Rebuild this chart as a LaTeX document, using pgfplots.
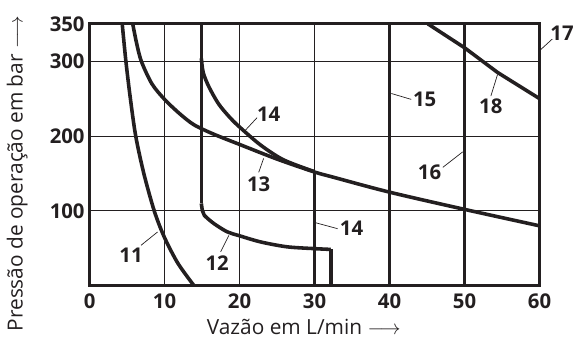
\documentclass[border=0pt]{standalone}
\usepackage{fontspec}
\setmainfont{Open Sans}
\usepackage{pgfplots}
\pgfplotsset{compat=1.18}
\definecolor{ink}{HTML}{231F20}
\tikzset{
  curve/.style={line width=3.6pt, color=ink, line cap=butt, line join=round},
  lead/.style={line width=0.7pt, color=ink},
  num/.style={font=\fontsize{20.5}{20.5}\selectfont\bfseries, color=ink},
}
\begin{document}
\begin{tikzpicture}
\begin{axis}[
  scale only axis, width=452bp, height=263bp,
  xmin=0, xmax=60, ymin=0, ymax=350,
  xtick={0,10,...,60}, ytick={100,200,300,350},
  grid=major, major grid style={line width=0.9pt, color=ink},
  major tick length=0pt,
  axis line style={line width=3.2pt, color=ink},
  tick label style={font=\fontsize{20.5}{20.5}\selectfont\bfseries, color=ink},
  /pgf/number format/assume math mode=true,
  xticklabel style={yshift=-5bp},
  yticklabel style={xshift=-1.5bp},
  clip=false,
  xlabel={Vazão em L/min $\longrightarrow$},
  ylabel={Pressão de operação em bar $\longrightarrow$},
  label style={font=\fontsize{21}{21}\selectfont, color=ink},
  xlabel style={at={(rel axis cs:0.476,-0.158)}, anchor=center},
  ylabel style={at={(rel axis cs:-0.161,1.045)}, anchor=east},
]
% bounding box helpers
\path (rel axis cs:-0.1991,-0.2191) (rel axis cs:1.0774,1.0911);
% curve 11
\addplot[curve, smooth] coordinates {(4.35,350) (4.84,300) (5.44,250) (6.15,200) (7.23,150) (8.62,100) (9.96,65) (11.77,30) (13.93,0)};
% curve 13
\addplot[curve, smooth] coordinates {(5.75,350) (6.25,325) (6.9,300) (8.3,270) (10,249) (12,230) (13.93,215) (16.58,202.4) (19.9,189.2) (25,169.2) (29.85,152.4) (32.5,145) (40,125) (50,102) (60,80)};
% curve 12
\addplot[curve] coordinates {(14.9,350) (14.9,110)};
\addplot[curve, smooth] coordinates {(14.9,110) (15.05,100) (15.3,94) (16.58,83) (18.35,72) (19.9,67) (22.8,58.5) (26.3,52) (29.85,49.6) (32.15,48.5)};
\addplot[curve] coordinates {(32.15,48.5) (32.15,0)};
% curve 14
\addplot[curve, smooth] coordinates {(14.9,304) (15.15,285) (15.9,266) (17.2,243) (18.6,226) (19.9,213) (22.8,188) (25.9,168) (30,152.4)};
\addplot[curve] coordinates {(30,152.4) (30,0)};
% curves 15, 16, 17
\addplot[curve] coordinates {(40,0) (40,350)};
\addplot[curve] coordinates {(50,0) (50,350)};
\addplot[curve] coordinates {(60,0) (60,350)};
% curve 18
\addplot[curve] coordinates {(45.1,350) (50,318) (54.4,285) (60,250)};
% labels
\draw[lead] (axis cs:6.86,54) -- (axis cs:9.06,71.8);
\node[num] at (axis cs:5.53,40.7) {11};
\draw[lead] (axis cs:17.47,45.2) -- (axis cs:18.57,67.3);
\node[num] at (axis cs:17.02,29.6) {12};
\draw[lead] (axis cs:22.55,151.5) -- (axis cs:23.2,170.1);
\node[num] at (axis cs:22.55,136) {13};
\draw[lead] (axis cs:22.33,224.6) -- (axis cs:20.56,205.5);
\node[num] at (axis cs:23.88,229) {14};
\draw[lead] (axis cs:30.15,84.1) -- (axis cs:33.07,76.2);
\node[num] at (axis cs:34.93,76.2) {14};
\draw[lead] (axis cs:40.24,256.9) -- (axis cs:42.89,249);
\node[num] at (axis cs:44.67,249) {15};
\draw[lead] (axis cs:47.1,158.2) -- (axis cs:49.75,178.9);
\node[num] at (axis cs:45.33,151.5) {16};
\draw[lead] (axis cs:60.14,315.5) -- (axis cs:61.69,329.7);
\node[num] at (axis cs:63,337.6) {17};
\draw[lead] (axis cs:53.5,253.4) -- (axis cs:54.39,282.2);
\node[num] at (axis cs:53.5,240.1) {18};
\end{axis}
\end{tikzpicture}
\end{document}
